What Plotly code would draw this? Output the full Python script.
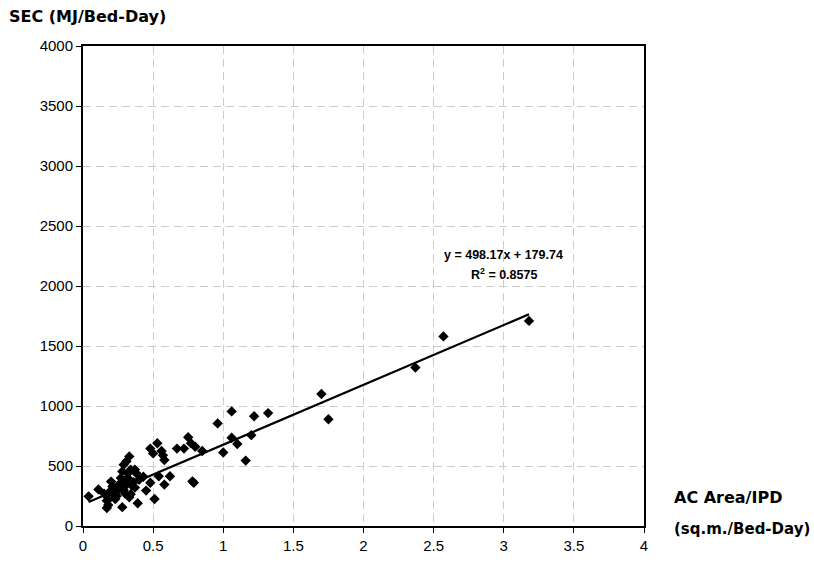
import plotly.graph_objects as go

ac_area = [0.04, 0.11, 0.15, 0.17, 0.18, 0.17, 0.20, 0.19, 0.22, 0.23, 0.21, 0.25, 0.26, 0.27,
           0.28, 0.29, 0.31, 0.33, 0.28, 0.32, 0.30, 0.31, 0.32, 0.34, 0.37, 0.38, 0.34, 0.33,
           0.36, 0.35, 0.37, 0.39, 0.40, 0.43, 0.45, 0.48, 0.48, 0.50, 0.53, 0.51, 0.54, 0.56,
           0.57, 0.58, 0.58, 0.62, 0.67, 0.72, 0.75, 0.77, 0.80, 0.85, 0.78, 0.79, 0.96, 1.00,
           1.06, 1.06, 1.10, 1.16, 1.20, 1.22, 1.32, 1.70, 1.75, 2.37, 2.57, 3.18, 0.24, 0.26,
           0.29, 0.30, 0.18]
sec = [247, 305, 270, 210, 175, 150, 370, 285, 260, 225, 330, 300, 350, 400,
       157, 510, 540, 580, 455, 440, 380, 345, 400, 470, 470, 440, 265, 240,
       365, 335, 320, 190, 385, 410, 295, 360, 645, 605, 690, 225, 415, 625,
       590, 550, 345, 415, 645, 645, 740, 690, 660, 625, 372, 360, 855, 612,
       955, 735, 683, 545, 757, 914, 941, 1100, 890, 1320, 1580, 1709, 250, 330,
       300, 270, 220]

slope = 498.17
intercept = 179.74
r_squared = 0.8575

x_ticks = [0, 0.5, 1, 1.5, 2, 2.5, 3, 3.5, 4]
x_tick_labels = ["0", "0.5", "1", "1.5", "2", "2.5", "3", "3.5", "4"]
y_ticks = [0, 500, 1000, 1500, 2000, 2500, 3000, 3500, 4000]

x_line = [min(ac_area), max(ac_area)]
y_line = [slope * v + intercept for v in x_line]

fig = go.Figure()
fig.add_trace(go.Scatter(x=ac_area, y=sec, mode="markers",
                         marker=dict(symbol="diamond", size=8, color="black"),
                         showlegend=False, cliponaxis=False))
fig.add_trace(go.Scatter(x=x_line, y=y_line, mode="lines",
                         line=dict(color="black", width=2.2), showlegend=False))

axis_common = dict(showline=True, linecolor="black", linewidth=2, mirror=True,
                   showgrid=True, gridcolor="#cccccc", griddash="8px,5px", gridwidth=1,
                   ticks="outside", ticklen=5, tickcolor="black", zeroline=False,
                   tickfont=dict(family="Liberation Sans, Arial", size=15, color="black"))

fig.update_xaxes(range=[0, 4], tickvals=x_ticks, ticktext=x_tick_labels, **axis_common)
fig.update_yaxes(range=[0, 4000], tickvals=y_ticks, **axis_common)

label_font = dict(family="DejaVu Sans", size=16, color="black")
fig.add_annotation(xref="paper", yref="paper", x=-0.136, y=1.038, xanchor="left", yanchor="bottom",
                   text="<b>SEC (MJ/Bed-Day)</b>", showarrow=False, font=label_font)
fig.add_annotation(xref="paper", yref="paper", x=1.05, y=0.059, xanchor="left", yanchor="middle",
                   text="<b>AC Area/IPD</b>", showarrow=False, font=label_font)
fig.add_annotation(xref="paper", yref="paper", x=1.05, y=-0.006, xanchor="left", yanchor="middle",
                   text="<b>(sq.m./Bed-Day)</b>", showarrow=False,
                   font=dict(family="DejaVu Sans", size=15, color="black"))
eq_font = dict(family="Liberation Sans, Arial", size=12.5, color="black")
fig.add_annotation(x=3.0, y=2262, xref="x", yref="y", showarrow=False, yanchor="middle",
                   text=f"<b>y = {slope}x + {intercept}</b>", font=eq_font)
fig.add_annotation(x=3.0, y=2099, xref="x", yref="y", showarrow=False, yanchor="middle",
                   text=f"<b>R<sup>2</sup> = {r_squared}</b>", font=eq_font)

fig.update_layout(width=814, height=566, margin=dict(l=83, r=170, t=46, b=30),
                  plot_bgcolor="white", paper_bgcolor="white")

fig.write_html("out.html")
